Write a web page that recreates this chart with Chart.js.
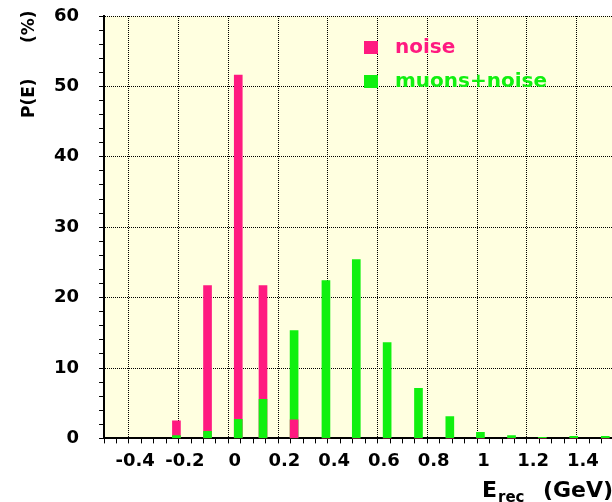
<!DOCTYPE html>
<html>
<head>
<meta charset="utf-8">
<script src="https://cdn.jsdelivr.net/npm/chart.js@4.4.1/dist/chart.umd.min.js"></script>
<style>
    body { margin: 0; overflow: hidden; background: #fff; }
    #wrap { width: 620px; height: 502px; position: relative; }
</style>
</head>
<body>
<div id="wrap"><canvas id="myChart"></canvas></div>
<script>
// bin positions (GeV) and percentages
const energy     = [-0.234, -0.109, 0.0145, 0.114, 0.239, 0.367, 0.489, 0.613, 0.739, 0.865, 0.988, 1.113, 1.237, 1.363, 1.49];
const noise      = [2.5, 21.7, 51.6, 21.7, 2.65, 0, 0, 0, 0, 0, 0, 0, 0, 0, 0];
const muonsNoise = [0.4, 1.0, 2.7, 5.55, 15.3, 22.4, 25.4, 13.6, 7.1, 3.1, 0.85, 0.4, 0.15, 0.3, 0.3];
const seriesNames = ['noise', 'muons+noise'];
const xTicks = [-0.4, -0.2, 0, 0.2, 0.4, 0.6, 0.8, 1, 1.2, 1.4];
const yTicks = [0, 10, 20, 30, 40, 50, 60];

const pink = '#ff1a80';
const green = '#10f010';
const font = 'DejaVu Sans';

function isIn(list, v) {
    for (var i = 0; i < list.length; i++) {
        if (Math.abs(list[i] - v) < 1e-6) return true;
    }
    return false;
}

// histograms overlap: the larger bar sits behind, the smaller one in front
var front = [], back = [], frontCol = [], backCol = [];
for (var i = 0; i < energy.length; i++) {
    var nFront = noise[i] <= muonsNoise[i];
    front.push({x: energy[i], y: nFront ? noise[i] : muonsNoise[i]});
    back.push({x: energy[i], y: nFront ? muonsNoise[i] : noise[i]});
    frontCol.push(nFront ? pink : green);
    backCol.push(nFront ? green : pink);
}

function gridCol(list) {
    return function (c) {
        if (!c.tick) return '#000';
        return isIn(list, c.tick.value) ? '#000' : 'rgba(0,0,0,0)';
    };
}

const extras = {
    id: 'extras',
    afterDraw: function (chart) {
        var ctx = chart.ctx;
        ctx.save();
        // legend
        var cols = [pink, green];
        ctx.textBaseline = 'middle';
        ctx.font = 'bold 20px "' + font + '"';
        for (var k = 0; k < seriesNames.length; k++) {
            var y = 48 + k * 34;
            ctx.fillStyle = cols[k];
            ctx.fillRect(364, y - 7, 14, 13);
            ctx.fillText(seriesNames[k], 395, y);
        }
        // x title with subscript
        ctx.fillStyle = '#000';
        ctx.textBaseline = 'alphabetic';
        ctx.font = 'bold 22px "' + font + '"';
        ctx.fillText('E', 482, 497);
        ctx.font = 'bold 15px "' + font + '"';
        ctx.fillText('rec', 498, 502);
        ctx.font = 'bold 22px "' + font + '"';
        ctx.fillText('(GeV)', 543, 497);
        // y title
        ctx.translate(34, 118);
        ctx.rotate(-Math.PI / 2);
        ctx.font = 'bold 17px "' + font + '"';
        ctx.fillText('P(E)', 0, 0);
        ctx.fillText('(%)', 75, 0);
        ctx.restore();
    }
};

new Chart(document.getElementById('myChart'), {
    type: 'bar',
    data: {
        datasets: [
            {label: 'front', data: front, backgroundColor: frontCol},
            {label: 'back', data: back, backgroundColor: backCol}
        ]
    },
    options: {
        responsive: true,
        maintainAspectRatio: false,
        animation: false,
        layout: {padding: {left: 34, top: 16, right: 6, bottom: 23}},
        datasets: {bar: {grouped: false, barThickness: 8, borderWidth: 0}},
        plugins: {legend: {display: false}, tooltip: {enabled: false}},
        scales: {
            x: {
                type: 'linear',
                min: -0.5,
                max: 1.5,
                grid: {color: gridCol(xTicks), tickColor: '#000', tickLength: 5, lineWidth: 1},
                border: {color: '#000', width: 2, dash: [1, 1]},
                ticks: {
                    stepSize: 0.05,
                    autoSkip: false,
                    maxRotation: 0,
                    padding: 7,
                    color: '#000',
                    font: {family: font, size: 18, weight: 'bold'},
                    callback: function (v) { return isIn(xTicks, v) ? String(Math.round(v * 10) / 10) : ''; }
                }
            },
            y: {
                min: 0,
                max: 60,
                afterFit: function (s) { s.paddingTop = 0; s.paddingBottom = 0; },
                grid: {color: gridCol(yTicks), tickColor: '#000', tickLength: 5, lineWidth: 1},
                border: {color: '#000', width: 2, dash: [1, 1]},
                ticks: {
                    stepSize: 2,
                    autoSkip: false,
                    padding: 20,
                    color: '#000',
                    font: {family: font, size: 18, weight: 'bold'},
                    callback: function (v) { return isIn(yTicks, v) ? String(v) : ''; }
                }
            }
        }
    },
    plugins: [{
        id: 'bg',
        beforeDraw: function (chart) {
            var a = chart.chartArea;
            chart.ctx.save();
            chart.ctx.fillStyle = '#ffffe0';
            chart.ctx.fillRect(a.left, a.top, a.right - a.left, a.bottom - a.top);
            chart.ctx.restore();
        }
    }, extras]
});
</script>
</body>
</html>
